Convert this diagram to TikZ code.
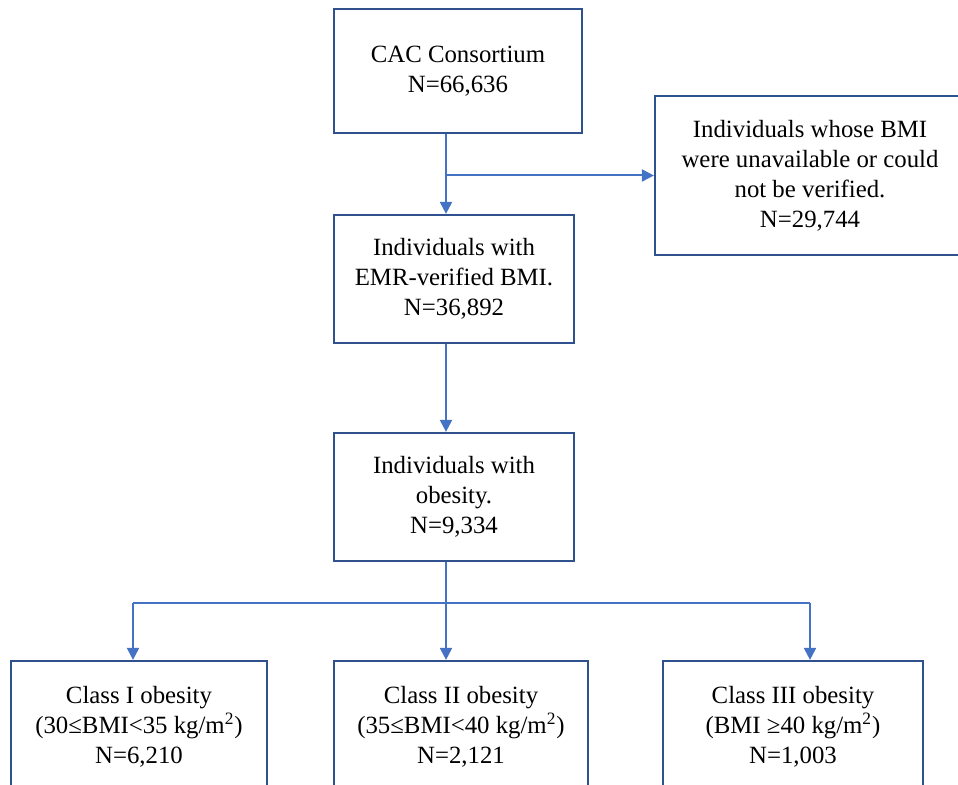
\documentclass[tikz,border=0pt]{standalone}
\usepackage{fontspec}
\setmainfont{Liberation Serif}
\definecolor{boxblue}{HTML}{2F528F}
\definecolor{arrowblue}{HTML}{4472C4}
\usetikzlibrary{arrows.meta}

\tikzset{
  flowbox/.style={draw=boxblue, line width=1.1pt, align=center, inner sep=0pt,
    font=\fontsize{12.4}{15}\selectfont},
  flowline/.style={draw=arrowblue, line width=1pt},
  flowarrow/.style={flowline, -{Triangle[length=6pt,width=6pt]}}
}

\begin{document}
\begin{tikzpicture}[x=0.5pt, y=-0.5pt]
  \useasboundingbox (0,0) rectangle (958,785);
  % boxes
  \node[flowbox, minimum width=124pt, minimum height=62pt] (cac) at (458,71) {CAC Consortium\\N=66,636};
  \node[flowbox, minimum width=155pt, minimum height=79.5pt] (unver) at (810,175.5) {Individuals whose BMI\\were unavailable or could\\not be verified.\\N=29,744};
  \node[flowbox, minimum width=120pt, minimum height=64pt] (emr) at (454,279) {Individuals with\\EMR-verified BMI.\\N=36,892};
  \node[flowbox, minimum width=120pt, minimum height=64pt] (obese) at (454,497) {Individuals with\\obesity.\\N=9,334};
  \node[flowbox, minimum width=128pt, minimum height=66pt] (cls1) at (139,727) {Class I obesity\\(30≤BMI<35 kg/m\textsuperscript{2})\\N=6,210};
  \node[flowbox, minimum width=127pt, minimum height=66pt] (cls2) at (461,727) {Class II obesity\\(35≤BMI<40 kg/m\textsuperscript{2})\\N=2,121};
  \node[flowbox, minimum width=130pt, minimum height=66pt] (cls3) at (793,727) {Class III obesity\\(BMI ≥40 kg/m\textsuperscript{2})\\N=1,003};
  % connectors
  \coordinate (spine) at (446,0);
  \draw[flowarrow] (cac.south -| spine) -- (emr.north -| spine);
  \draw[flowarrow] (spine |- unver.west) -- (unver.west);
  \draw[flowarrow] (emr.south -| spine) -- (obese.north -| spine);
  \coordinate (split) at (446,603);
  \coordinate (splitL) at (133,603);
  \coordinate (splitR) at (810,603);
  \draw[flowline] (obese.south -| spine) -- (split);
  \draw[flowline] (splitL) -- (splitR);
  \foreach \from/\to in {splitL/cls1, split/cls2, splitR/cls3}
    \draw[flowarrow] (\from) -- (\from |- \to.north);
\end{tikzpicture}
\end{document}
